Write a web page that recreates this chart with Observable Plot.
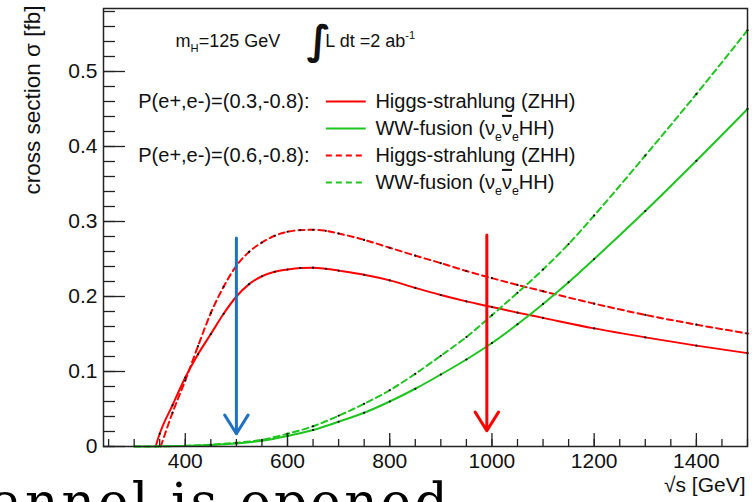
<!DOCTYPE html>
<html>
<head>
<meta charset="utf-8">
<script src="https://cdn.jsdelivr.net/npm/d3@7"></script>
<script src="https://cdn.jsdelivr.net/npm/@observablehq/plot@0.6"></script>
<style>
html, body { margin: 0; padding: 0; background: #fff; }
body { width: 754px; height: 502px; overflow: hidden; position: relative; }
#chart { position: absolute; left: 0; top: 0; }
#slide { position: absolute; left: -9px; top: 476px; font-family: "DejaVu Serif", serif; font-size: 52px; line-height: 52px; letter-spacing: 3px; white-space: nowrap; color: #000; }
</style>
</head>
<body>
<div id="chart"></div>
<div id="slide">annel is opened</div>
<script>
// ---- data ----
// Higgs-strahlung ZHH, P(e+,e-)=(0.3,-0.8)
const energyZHH03 = [342, 350, 375, 400, 425, 450, 475, 500, 525, 550, 575, 600, 625, 650, 675, 700, 750, 800, 850, 900, 950, 1000, 1050, 1100, 1200, 1300, 1400, 1500];
const sigmaZHH03  = [0, 0.017, 0.055, 0.092, 0.123, 0.150, 0.177, 0.200, 0.2165, 0.227, 0.233, 0.236, 0.238, 0.2385, 0.237, 0.2345, 0.229, 0.2215, 0.2115, 0.202, 0.1935, 0.186, 0.1785, 0.1715, 0.1575, 0.1455, 0.1345, 0.1245];
// Higgs-strahlung ZHH, P(e+,e-)=(0.6,-0.8)
const energyZHH06 = [352, 375, 400, 425, 450, 475, 500, 525, 550, 575, 600, 625, 650, 675, 700, 750, 800, 850, 900, 950, 1000, 1050, 1100, 1200, 1300, 1400, 1500];
const sigmaZHH06  = [0, 0.045, 0.088, 0.134, 0.178, 0.213, 0.241, 0.2596, 0.272, 0.281, 0.2863, 0.2885, 0.289, 0.2876, 0.284, 0.2755, 0.265, 0.2545, 0.2445, 0.234, 0.2245, 0.2155, 0.207, 0.1905, 0.1755, 0.1625, 0.1507];
// WW-fusion, P(e+,e-)=(0.3,-0.8)
const energyWW03 = [300, 350, 400, 450, 500, 550, 600, 650, 700, 750, 800, 850, 900, 950, 1000, 1050, 1100, 1150, 1200, 1300, 1400, 1500];
const sigmaWW03  = [0, 0.0002, 0.0008, 0.002, 0.004, 0.0076, 0.014, 0.022, 0.033, 0.045, 0.060, 0.077, 0.096, 0.116, 0.138, 0.163, 0.190, 0.219, 0.250, 0.314, 0.381, 0.450];
// WW-fusion, P(e+,e-)=(0.6,-0.8)
const energyWW06 = [300, 350, 400, 450, 500, 550, 600, 650, 700, 750, 800, 850, 900, 950, 1000, 1050, 1100, 1150, 1200, 1300, 1400, 1500];
const sigmaWW06  = [0, 0.0002, 0.001, 0.0025, 0.005, 0.009, 0.017, 0.027, 0.041, 0.057, 0.075, 0.097, 0.121, 0.146, 0.175, 0.205, 0.236, 0.270, 0.308, 0.388, 0.470, 0.555];

// arrows marking energies
const arrowEnergies = [500, 990];
const arrowTop = [0.278, 0.282];
const arrowTip = [0.017, 0.021];

// ticks
const xMajorTicks = [400, 600, 800, 1000, 1200, 1400];
const xMinorTicks = d3.range(250, 1501, 50);
const yMajorTicks = [0, 0.1, 0.2, 0.3, 0.4, 0.5];
const yMinorTicks = d3.range(0, 30).map(i => +(i * 0.02).toFixed(2));

// legend text
const polLabels = ["P(e+,e-)=(0.3,-0.8):", "P(e+,e-)=(0.6,-0.8):"];
const processLabels = ["Higgs-strahlung (ZHH)", "WW-fusion (ν_e!{ν}_eHH)", "Higgs-strahlung (ZHH)", "WW-fusion (ν_e!{ν}_eHH)"];

const rows = (E, S) => E.map((e, i) => ({e, s: S[i]}));
const zhh03 = rows(energyZHH03, sigmaZHH03);
const zhh06 = rows(energyZHH06, sigmaZHH06);
const ww03 = rows(energyWW03, sigmaWW03);
const ww06 = rows(energyWW06, sigmaWW06);

const RED = "#ff0000", GREEN = "#1fc41f", BLUE = "#1f72c2";
const DASH = "6,4";

const legendY = [0.460, 0.424, 0.388, 0.352];
const legendRows = processLabels.map((t, i) => ({t, y: legendY[i], color: i % 2 === 0 ? RED : GREEN, dashed: i >= 2}));

const lineOpts = {x: "e", y: "s", strokeWidth: 2, curve: "monotone-x"};
const dotOpts = {x: "e", y: "s", r: 1.1, fill: "#000", stroke: null};

const plot = Plot.plot({
  width: 754,
  height: 502,
  marginLeft: 103,
  marginRight: 7,
  marginTop: 8,
  marginBottom: 56,
  x: {domain: [240, 1500], label: null},
  y: {domain: [0, 0.584], label: null},
  style: {fontFamily: "'Liberation Sans', Arial, sans-serif", fontSize: "20px", color: "#111", background: "#fff", overflow: "visible"},
  marks: [
    Plot.line(zhh03, {...lineOpts, stroke: RED}),
    Plot.line(zhh06, {...lineOpts, stroke: RED, strokeDasharray: DASH}),
    Plot.line(ww03, {...lineOpts, stroke: GREEN}),
    Plot.line(ww06, {...lineOpts, stroke: GREEN, strokeDasharray: DASH}),
    Plot.dot(zhh03.filter(d => d.s > 0), dotOpts),
    Plot.dot(zhh06.filter(d => d.s > 0), dotOpts),
    Plot.dot(ww03.filter(d => d.e >= 450), dotOpts),
    Plot.dot(ww06.filter(d => d.e >= 450), dotOpts),
    // arrows
    Plot.arrow([0], {x1: () => arrowEnergies[0], x2: () => arrowEnergies[0], y1: () => arrowTop[0], y2: () => arrowTip[0], stroke: BLUE, strokeWidth: 3, headAngle: 64, headLength: 11}),
    Plot.arrow([1], {x1: () => arrowEnergies[1], x2: () => arrowEnergies[1], y1: () => arrowTop[1], y2: () => arrowTip[1], stroke: RED, strokeWidth: 3, headAngle: 64, headLength: 11}),
    // annotation
    Plot.text(["m_H=125 GeV"], {x: 381, y: 0.541, text: d => d, textAnchor: "start", fontSize: 18}),
    Plot.text(["∫"], {x: 637, y: 0.541, text: d => d, textAnchor: "start", fontSize: 40, fontWeight: "bold", fontFamily: "'DejaVu Sans', sans-serif"}),
    Plot.text(["L dt =2 ab^{-1}"], {x: 674, y: 0.541, text: d => d, textAnchor: "start", fontSize: 18}),
    // legend
    Plot.text(polLabels, {x: 308, y: (d, i) => legendY[i * 2], text: d => d, textAnchor: "start", fontSize: 20}),
    Plot.ruleY(legendRows.filter(d => !d.dashed), {y: "y", x1: 676, x2: 754, stroke: "color", strokeWidth: 2}),
    Plot.ruleY(legendRows.filter(d => d.dashed), {y: "y", x1: 676, x2: 754, stroke: "color", strokeWidth: 2, strokeDasharray: DASH}),
    Plot.text(legendRows, {x: 772, y: "y", text: "t", textAnchor: "start", fontSize: 20}),
    // frame
    Plot.frame({stroke: "#222", strokeWidth: 1.5}),
    // axes (ROOT style: ticks inside)
    Plot.axisX(xMinorTicks, {anchor: "bottom", tickSize: -7, tickFormat: () => "", label: null, strokeWidth: 1.3, stroke: "#222"}),
    Plot.axisX(xMajorTicks, {anchor: "bottom", tickSize: -13, tickPadding: 20, label: null, tickFormat: d => String(d), fontSize: 21, strokeWidth: 1.3, stroke: "#222"}),
    Plot.axisY(yMinorTicks, {anchor: "left", tickSize: -12, tickFormat: () => "", label: null, strokeWidth: 1.3, stroke: "#222"}),
    Plot.axisY(yMajorTicks, {anchor: "left", tickSize: -22, tickPadding: 28, label: null, tickFormat: d => String(+d.toFixed(2)), fontSize: 21, strokeWidth: 1.3, stroke: "#222"}),
    // axis titles
    Plot.text(["cross section σ [fb]"], {frameAnchor: "top-left", dx: -79, dy: -3, rotate: -90, textAnchor: "end", text: d => d, fontSize: 22.5}),
    Plot.text(["√s [GeV]"], {frameAnchor: "bottom-right", dx: -2, dy: 45, textAnchor: "end", text: d => d, fontSize: 21})
  ]
});

document.getElementById("chart").appendChild(plot);

// rich text: _x subscript, ^{..} superscript, !{..} overline
d3.select(plot).selectAll("text").each(function () {
  const el = this;
  if (el.querySelector("tspan")) return;
  const s = el.textContent;
  if (!/[_^!]/.test(s)) return;
  const fs = parseFloat(getComputedStyle(el).fontSize) || 18;
  const re = /([_^!])(\{[^}]*\}|.)/g;
  const tokens = [];
  let last = 0, m;
  while ((m = re.exec(s))) {
    if (m.index > last) tokens.push({t: s.slice(last, m.index), k: "n"});
    tokens.push({t: m[2].replace(/[{}]/g, ""), k: m[1] === "_" ? "sub" : m[1] === "^" ? "sup" : "over"});
    last = re.lastIndex;
  }
  if (last < s.length) tokens.push({t: s.slice(last), k: "n"});
  el.textContent = "";
  let offset = 0;
  for (const tok of tokens) {
    const ts = d3.select(el).append("tspan").text(tok.t);
    let target = 0;
    if (tok.k === "sub") { target = 0.32 * fs; ts.attr("font-size", 0.62 * fs); }
    else if (tok.k === "sup") { target = -0.42 * fs; ts.attr("font-size", 0.62 * fs); }
    else if (tok.k === "over") { ts.style("text-decoration", "overline").style("text-decoration-thickness", "2.5px"); }
    const dy = target - offset;
    if (dy !== 0) ts.attr("dy", dy);
    offset = target;
  }
});
</script>
</body>
</html>
